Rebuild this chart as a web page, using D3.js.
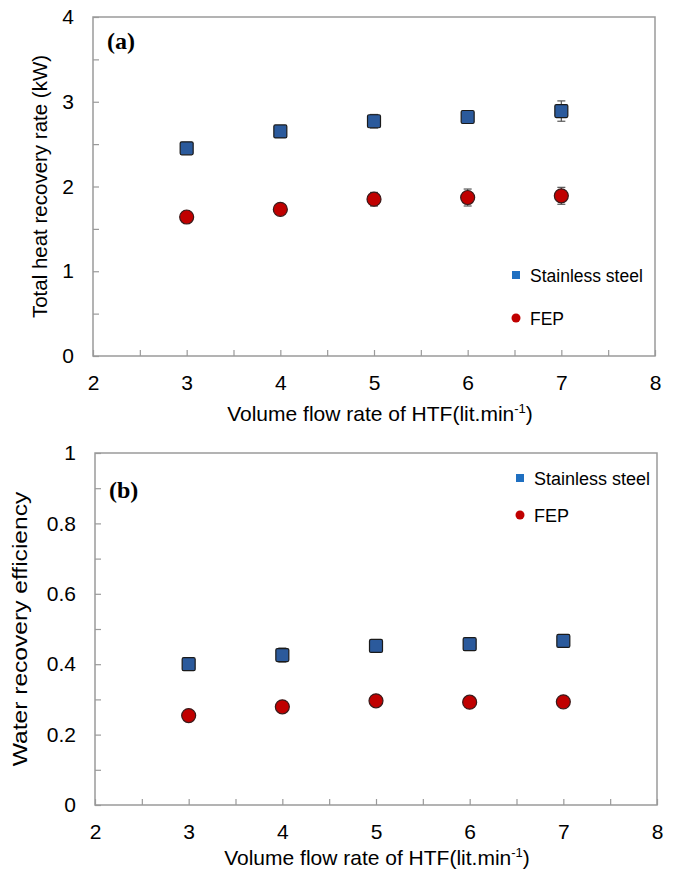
<!DOCTYPE html>
<html><head><meta charset="utf-8">
<script src="https://cdn.jsdelivr.net/npm/d3@7"></script>
<style>
body{margin:0;background:#fff;}
svg{display:block;}
text{font-family:"Liberation Sans",Arial,sans-serif;fill:#000;}
</style></head>
<body>
<script>
const flowRates = [3, 4, 5, 6, 7];
const seriesNames = ["Stainless steel", "FEP"];
// Panel (a): total heat recovery rate (kW)
const heatSS = [2.45, 2.65, 2.77, 2.82, 2.89];
const heatSSErr = [0.03, 0.05, 0.08, 0.07, 0.12];
const heatFEP = [1.64, 1.73, 1.85, 1.87, 1.89];
const heatFEPErr = [0.02, 0.05, 0.08, 0.10, 0.10];
// Panel (b): water recovery efficiency
const waterSS = [0.40, 0.426, 0.452, 0.457, 0.466];
const waterSSErr = [0.01, 0.02, 0.015, 0.012, 0.015];
const waterFEP = [0.254, 0.279, 0.296, 0.292, 0.293];
const waterFEPErr = [0.006, 0.008, 0.008, 0.006, 0.006];
const xTicks = [2, 3, 4, 5, 6, 7, 8];
const yTicksA = [0, 1, 2, 3, 4];
const yTicksB = [0, 0.2, 0.4, 0.6, 0.8, 1];

const W = 676, H = 875;
const svg = d3.select("body").append("svg").attr("width", W).attr("height", H);

function panel(cfg) {
  const g = svg.append("g");
  const x = d3.scaleLinear().domain([2, 8]).range([cfg.left, cfg.right]);
  const y = d3.scaleLinear().domain(cfg.yDomain).range([cfg.bottom, cfg.top]);
  const axisCol = "#9a9a9a";
  g.append("rect").attr("x", cfg.left).attr("y", cfg.top)
    .attr("width", cfg.right - cfg.left).attr("height", cfg.bottom - cfg.top)
    .attr("fill", "none").attr("stroke", axisCol).attr("stroke-width", 1.5);
  const xt = d3.range(2, 8.001, 0.5);
  const xa = g.append("g").attr("transform", `translate(0,${cfg.bottom})`)
    .call(d3.axisTop(x).tickValues(xt).tickSize(6).tickFormat(""));
  xa.select(".domain").remove();
  xa.selectAll("line").attr("stroke", axisCol).attr("stroke-width", 1.2);
  const xl = g.append("g").attr("transform", `translate(0,${cfg.bottom})`)
    .call(d3.axisBottom(x).tickValues(xTicks).tickSize(0).tickPadding(19).tickFormat(d3.format("d")));
  xl.select(".domain").remove();
  xl.selectAll("text").style("font-size", "21px").attr("font-family", "Liberation Sans, Arial, sans-serif");
  const ya = g.append("g").attr("transform", `translate(${cfg.left},0)`)
    .call(d3.axisRight(y).tickValues(cfg.yMinor).tickSize(6).tickFormat(""));
  ya.select(".domain").remove();
  ya.selectAll("line").attr("stroke", axisCol).attr("stroke-width", 1.2);
  const yl = g.append("g").attr("transform", `translate(${cfg.left},0)`)
    .call(d3.axisLeft(y).tickValues(cfg.yTicks).tickSize(0).tickPadding(19).tickFormat(cfg.yFmt));
  yl.select(".domain").remove();
  yl.selectAll("text").style("font-size", "21px").attr("font-family", "Liberation Sans, Arial, sans-serif");

  const xt2 = g.append("text").attr("x", cfg.xTitleX).attr("y", cfg.xTitleY)
    .attr("text-anchor", "middle").style("font-size", "21px");
  xt2.append("tspan").text("Volume flow rate of HTF(lit.min");
  xt2.append("tspan").text("-1").attr("dy", -8).style("font-size", "13px");
  xt2.append("tspan").text(")").attr("dy", 8);
  g.append("text").attr("transform", `translate(${cfg.yTitleX},${(cfg.top + cfg.bottom) / 2}) rotate(-90) scale(${cfg.yTitleStretch},1)`)
    .attr("text-anchor", "middle").style("font-size", "20.5px").text(cfg.yTitle);
  g.append("text").attr("x", cfg.left + 14).attr("y", cfg.tagY)
    .style("font-family", "Liberation Serif, Times New Roman, serif").style("font-size", "24px")
    .style("font-weight", "bold").text(cfg.tag);

  const sets = [
    {v: cfg.ss, e: cfg.ssErr, shape: "square"},
    {v: cfg.fep, e: cfg.fepErr, shape: "circle"}
  ];
  sets.forEach(s => {
    const eb = g.append("g");
    flowRates.forEach((fr, i) => {
      const cx = x(fr), y1 = y(s.v[i] + s.e[i]), y2 = y(s.v[i] - s.e[i]);
      eb.append("line").attr("x1", cx).attr("x2", cx).attr("y1", y1).attr("y2", y2).attr("stroke", "#555").attr("stroke-width", 1.2);
      [y1, y2].forEach(yy => eb.append("line").attr("x1", cx - 4).attr("x2", cx + 4).attr("y1", yy).attr("y2", yy).attr("stroke", "#555").attr("stroke-width", 1.2));
    });
    if (s.shape === "square") {
      g.selectAll(null).data(s.v).enter().append("rect")
        .attr("x", (d, i) => x(flowRates[i]) - 6.5).attr("y", d => y(d) - 6.5)
        .attr("width", 13).attr("height", 13).attr("rx", 1.5)
        .attr("fill", "#2b5a9c").attr("stroke", "#1a1a1a").attr("stroke-width", 1.2);
    } else {
      g.selectAll(null).data(s.v).enter().append("circle")
        .attr("cx", (d, i) => x(flowRates[i])).attr("cy", d => y(d)).attr("r", 7)
        .attr("fill", "#c00000").attr("stroke", "#3a1a1a").attr("stroke-width", 1.2);
    }
  });

  const lg = g.append("g");
  lg.append("rect").attr("x", cfg.legX - 4).attr("y", cfg.legY - 4).attr("width", 8).attr("height", 8).attr("fill", "#1f6fc1");
  lg.append("text").attr("x", cfg.legX + 14).attr("y", cfg.legY + 6.5).style("font-size", cfg.legSize + "px").text(seriesNames[0]);
  lg.append("circle").attr("cx", cfg.legX).attr("cy", cfg.legY + cfg.legGap).attr("r", 4.5).attr("fill", "#c00000");
  lg.append("text").attr("x", cfg.legX + 14).attr("y", cfg.legY + cfg.legGap + 6.5).style("font-size", cfg.legSize + "px").text(seriesNames[1]);
}

panel({
  left: 93, right: 655, top: 17, bottom: 356,
  yDomain: [0, 4], yTicks: yTicksA, yMinor: d3.range(0, 4.001, 0.5), yFmt: d3.format("d"),
  xTitleX: 380, xTitleY: 421, yTitleX: 47, yTitleStretch: 1,
  yTitle: "Total heat recovery rate (kW)", tag: "(a)", tagY: 49,
  ss: heatSS, ssErr: heatSSErr, fep: heatFEP, fepErr: heatFEPErr,
  legX: 516, legY: 275, legGap: 43, legSize: 17.5
});
panel({
  left: 95, right: 657, top: 453, bottom: 805,
  yDomain: [0, 1], yTicks: yTicksB, yMinor: d3.range(0, 1.001, 0.1), yFmt: d => d === 0 || d === 1 ? d3.format("d")(d) : d3.format(".1f")(d),
  xTitleX: 377, xTitleY: 865, yTitleX: 27, yTitleStretch: 1.2,
  yTitle: "Water recovery efficiency", tag: "(b)", tagY: 498,
  ss: waterSS, ssErr: waterSSErr, fep: waterFEP, fepErr: waterFEPErr,
  legX: 520, legY: 478, legGap: 37, legSize: 18
});
</script>
</body></html>
